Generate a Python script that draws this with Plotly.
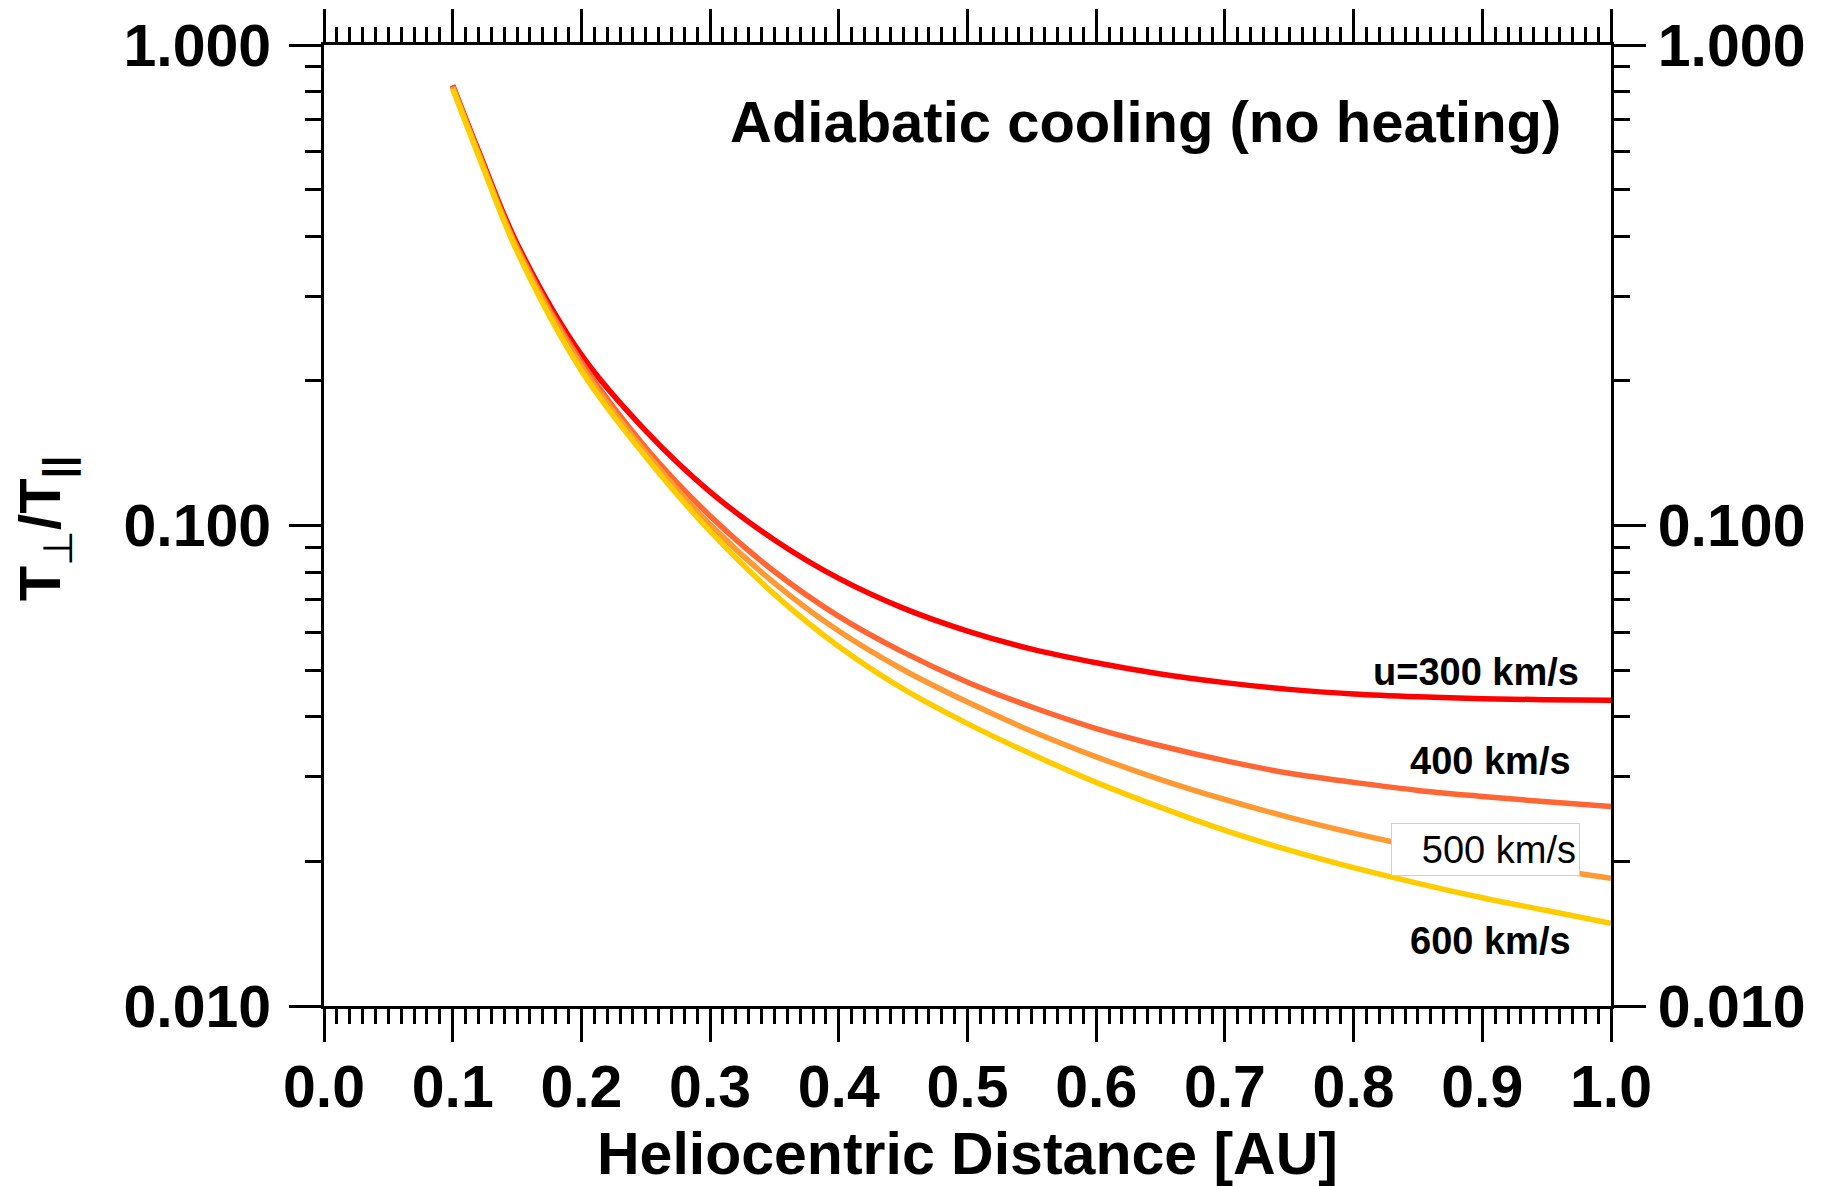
import plotly.graph_objects as go

# Heliocentric distance grid [AU]
distance_au = [0.10, 0.12, 0.15, 0.20, 0.25, 0.30, 0.35, 0.40, 0.45, 0.50,
               0.55, 0.60, 0.65, 0.70, 0.75, 0.80, 0.85, 0.90, 0.95, 1.00]

# Temperature anisotropy T_perp / T_par for each solar wind speed
ratio_300 = [0.825, 0.603, 0.386, 0.2265, 0.1574, 0.1175, 0.0933, 0.0776, 0.0673, 0.0603,
             0.0553, 0.0518, 0.0491, 0.0471, 0.0456, 0.0446, 0.0440, 0.0436, 0.0434, 0.0433]
ratio_400 = [0.822, 0.597, 0.380, 0.2188, 0.1452, 0.1047, 0.0802, 0.0647, 0.0545, 0.0472,
             0.0419, 0.0378, 0.0348, 0.0324, 0.0305, 0.0292, 0.0281, 0.0273, 0.0266, 0.0260]
ratio_500 = [0.818, 0.594, 0.376, 0.2148, 0.1419, 0.1005, 0.0759, 0.0603, 0.0501, 0.0429,
             0.0373, 0.0330, 0.0296, 0.0269, 0.0247, 0.0229, 0.0214, 0.0202, 0.0193, 0.01845]
ratio_600 = [0.810, 0.589, 0.372, 0.2100, 0.1390, 0.0973, 0.0719, 0.0560, 0.0457, 0.0387,
             0.0334, 0.0292, 0.0259, 0.0232, 0.0211, 0.0194, 0.0180, 0.0168, 0.0158, 0.01486]

series = [
    ("u=300 km/s", ratio_300, "#FF0000"),
    ("400 km/s", ratio_400, "#FF6633"),
    ("500 km/s", ratio_500, "#FF9933"),
    ("600 km/s", ratio_600, "#FFCC00"),
]

x_tickvals = [0.0, 0.1, 0.2, 0.3, 0.4, 0.5, 0.6, 0.7, 0.8, 0.9, 1.0]
x_ticktext = ["0.0", "0.1", "0.2", "0.3", "0.4", "0.5", "0.6", "0.7", "0.8", "0.9", "1.0"]
x_minor = [i / 100 for i in range(1, 100) if i % 10 != 0]
y_tickvals = [0.01, 0.1, 1.0]
y_ticktext = ["0.010", "0.100", "1.000"]
y_minor = [m * d for d in (0.01, 0.1) for m in range(2, 10)]

FONT = "Liberation Sans, Arial, sans-serif"
tick_font = dict(family=FONT, size=59, color="black", weight="bold")

fig = go.Figure()
for name, vals, color in series:
    fig.add_trace(go.Scatter(
        x=distance_au, y=vals, mode="lines", name=name,
        line=dict(color=color, width=5.5, shape="spline", smoothing=1.0),
        showlegend=False,
    ))
# carrier traces for the top and right-hand axes
fig.add_trace(go.Scatter(x=[None], y=[None], yaxis="y2", showlegend=False,
                         hoverinfo="skip"))
fig.add_trace(go.Scatter(x=[None], y=[None], xaxis="x2", showlegend=False,
                         hoverinfo="skip"))


def x_axis(side, labels):
    return dict(
        side=side, range=[0, 1],
        tickmode="array", tickvals=x_tickvals, ticktext=x_ticktext,
        showticklabels=labels,
        ticks="outside", ticklen=33, tickwidth=3, tickcolor="black",
        showline=True, linewidth=3, linecolor="black",
        showgrid=False, zeroline=False, tickfont=tick_font,
        ticklabelstandoff=-6,
        minor=dict(tickmode="array", tickvals=x_minor, ticks="outside",
                   ticklen=15, tickwidth=2.5, tickcolor="black", showgrid=False),
    )


def y_axis(side, standoff):
    return dict(
        side=side, type="log", range=[-2, 0],
        tickmode="array", tickvals=y_tickvals, ticktext=y_ticktext,
        ticks="outside", ticklen=32, tickwidth=3, tickcolor="black",
        showline=True, linewidth=3, linecolor="black",
        showgrid=False, zeroline=False, tickfont=tick_font,
        ticklabelstandoff=standoff,
        minor=dict(tickmode="array", tickvals=y_minor, ticks="outside",
                   ticklen=16, tickwidth=3, tickcolor="black", showgrid=False),
    )


fig.update_layout(
    width=1825, height=1186, autosize=False,
    margin=dict(l=324, r=214, t=43, b=180),
    paper_bgcolor="white", plot_bgcolor="white",
    xaxis=x_axis("bottom", True),
    xaxis2=dict(overlaying="x", anchor="y", **x_axis("top", False)),
    yaxis=y_axis("left", 6),
    yaxis2=dict(overlaying="y", anchor="x", **y_axis("right", 0)),
)

label_font = dict(family=FONT, size=38, color="black", weight="bold")
annotations = [
    dict(text="Adiabatic cooling (no heating)", x=0.9627, y=0.920,
         xanchor="right", yanchor="middle",
         font=dict(family=FONT, size=58, color="black", weight="bold")),
    dict(text="u=300 km/s", x=0.9767, y=0.348, xanchor="right", yanchor="middle",
         font=label_font),
    dict(text="400 km/s", x=0.9705, y=0.2545, xanchor="right", yanchor="middle",
         font=label_font),
    dict(text="500 km/s", x=0.9025, y=0.1625, xanchor="center", yanchor="middle",
         width=181, height=45, align="right", borderpad=3,
         bgcolor="white", bordercolor="#cfcfcf", borderwidth=1,
         font=dict(family=FONT, size=38, color="black")),
    dict(text="600 km/s", x=0.9705, y=0.0675, xanchor="right", yanchor="middle",
         font=label_font),
    dict(text="Heliocentric Distance [AU]", x=0.5, y=-0.1535,
         xanchor="center", yanchor="middle",
         font=dict(family=FONT, size=59, color="black", weight="bold")),
    dict(text="<b>T</b><sub>⊥</sub><b>/T</b><sub><b>||</b></sub>",
         x=-0.2176, y=0.497, xanchor="center", yanchor="middle", textangle=-90,
         font=dict(family=FONT, size=58, color="black")),
]
for a in annotations:
    a.update(xref="paper", yref="paper", showarrow=False)
fig.update_layout(annotations=annotations)

fig.write_html("out.html")
